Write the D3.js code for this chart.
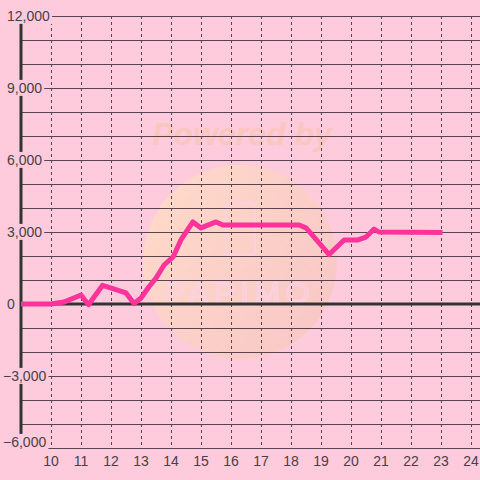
<!DOCTYPE html>
<html>
<head>
<meta charset="utf-8">
<script src="https://cdn.jsdelivr.net/npm/d3@7"></script>
<style>
	html, body { margin: 0; padding: 0; background: #fecbdc; }
	svg { display: block; }
</style>
</head>
<body>
<div id="chart"></div>
<script>
// readings (hour, value)
var hours = [9, 10, 10.43, 11, 11.25, 11.72, 12.5, 12.77, 13, 13.27, 13.5, 13.77, 14.07, 14.33, 14.73, 15, 15.5, 15.73, 18.27, 18.5, 18.77, 19.27, 19.77, 20.23, 20.5, 20.77, 20.93, 23.05];
var values = [0, 0, 80, 375, -30, 780, 460, 20, 250, 730, 1080, 1625, 1960, 2670, 3420, 3170, 3420, 3290, 3290, 3170, 2790, 2060, 2670, 2670, 2790, 3125, 3000, 2980];
var xTicks = [10, 11, 12, 13, 14, 15, 16, 17, 18, 19, 20, 21, 22, 23, 24];
var yTicks = [-6000, -3000, 0, 3000, 6000, 9000, 12000];
var yGrid = d3.range(-6000, 12001, 1000);

var width = 480,
	height = 480,
	bg = "#fecbdc",
	gridColor = "#5a4250",
	textColor = "#4a4046";

var x = d3.scaleLinear().domain([9, 24.3]).range([21, 480]);
var y = d3.scaleLinear().domain([-6000, 12000]).range([448, 16]);

var svg = d3.select("#chart")
	.append("svg")
	.attr("width", width)
	.attr("height", height)
	.style("font-family", "'Liberation Sans', Arial, sans-serif");

svg.append("rect")
	.attr("width", width)
	.attr("height", height)
	.attr("fill", bg);

// watermark
var defs = svg.append("defs");
var grad = defs.append("linearGradient")
	.attr("id", "wm")
	.attr("x1", "0%").attr("y1", "20%")
	.attr("x2", "100%").attr("y2", "80%");
grad.append("stop").attr("offset", "0%").attr("stop-color", "#ffdcc6");
grad.append("stop").attr("offset", "100%").attr("stop-color", "#f7c6c2");

var wm = svg.append("g").attr("class", "watermark");
wm.append("circle")
	.attr("cx", 240).attr("cy", 262).attr("r", 97)
	.attr("fill", "url(#wm)")
	.attr("opacity", 0.85);
wm.append("text")
	.attr("x", 242).attr("y", 145)
	.attr("text-anchor", "middle")
	.attr("font-size", 32)
	.attr("font-weight", "bold")
	.attr("font-style", "italic")
	.attr("fill", "#f9c6c0")
	.text("Powered by");
wm.append("rect")
	.attr("x", 226).attr("y", 203).attr("width", 29).attr("height", 52).attr("rx", 3)
	.attr("fill", "none")
	.attr("stroke", "#fcd0e0")
	.attr("stroke-width", 2);
wm.append("text")
	.attr("x", 240).attr("y", 303)
	.attr("text-anchor", "middle")
	.attr("font-size", 30)
	.attr("letter-spacing", 6)
	.attr("fill", "none")
	.attr("stroke", "#fcd2e2")
	.attr("stroke-width", 1.5)
	.text("PAPIMO");

// horizontal grid
svg.append("g")
	.selectAll("line")
	.data(yGrid)
	.join("line")
	.attr("x1", x(9))
	.attr("x2", width)
	.attr("y1", function (d) { return Math.round(y(d)) + 0.5; })
	.attr("y2", function (d) { return Math.round(y(d)) + 0.5; })
	.attr("stroke", gridColor)
	.attr("stroke-width", 1);

// vertical dotted grid
svg.append("g")
	.selectAll("line")
	.data(xTicks)
	.join("line")
	.attr("x1", function (d) { return Math.round(x(d)) + 0.5; })
	.attr("x2", function (d) { return Math.round(x(d)) + 0.5; })
	.attr("y1", y(12000))
	.attr("y2", y(-6000))
	.attr("stroke", gridColor)
	.attr("stroke-width", 1)
	.attr("stroke-dasharray", "3,3");

// zero line and y axis
svg.append("line")
	.attr("x1", x(9)).attr("x2", width)
	.attr("y1", y(0)).attr("y2", y(0))
	.attr("stroke", "#333")
	.attr("stroke-width", 3);
svg.append("line")
	.attr("x1", x(9)).attr("x2", x(9))
	.attr("y1", y(12000)).attr("y2", y(-6000))
	.attr("stroke", "#333")
	.attr("stroke-width", 3);

// data line
var line = d3.line()
	.x(function (d) { return x(d[0]); })
	.y(function (d) { return y(d[1]); });

svg.append("path")
	.datum(d3.zip(hours, values))
	.attr("d", line)
	.attr("fill", "none")
	.attr("stroke", "#ff3399")
	.attr("stroke-width", 5)
	.attr("stroke-linejoin", "round");

// y labels with background boxes
var fmt = d3.format(",d");
var ylab = svg.append("g")
	.selectAll("g")
	.data(yTicks)
	.join("g");

ylab.append("rect").attr("fill", bg);
ylab.append("text")
	.attr("x", function (d) { return d < 0 ? 3 : 7; })
	.attr("y", function (d) { return Math.min(y(d), 442); })
	.attr("dy", "0.35em")
	.attr("font-size", 14)
	.attr("fill", textColor)
	.text(function (d) { return fmt(d); });

ylab.each(function () {
	var g = d3.select(this),
		b = g.select("text").node().getBBox();
	g.select("rect")
		.attr("x", b.x - 2)
		.attr("y", b.y)
		.attr("width", b.width + 4)
		.attr("height", b.height);
});

// x labels
svg.append("g")
	.selectAll("text")
	.data(xTicks)
	.join("text")
	.attr("x", function (d) { return x(d); })
	.attr("y", 466)
	.attr("text-anchor", "middle")
	.attr("font-size", 14)
	.attr("fill", textColor)
	.text(function (d) { return d; });
</script>
</body>
</html>
